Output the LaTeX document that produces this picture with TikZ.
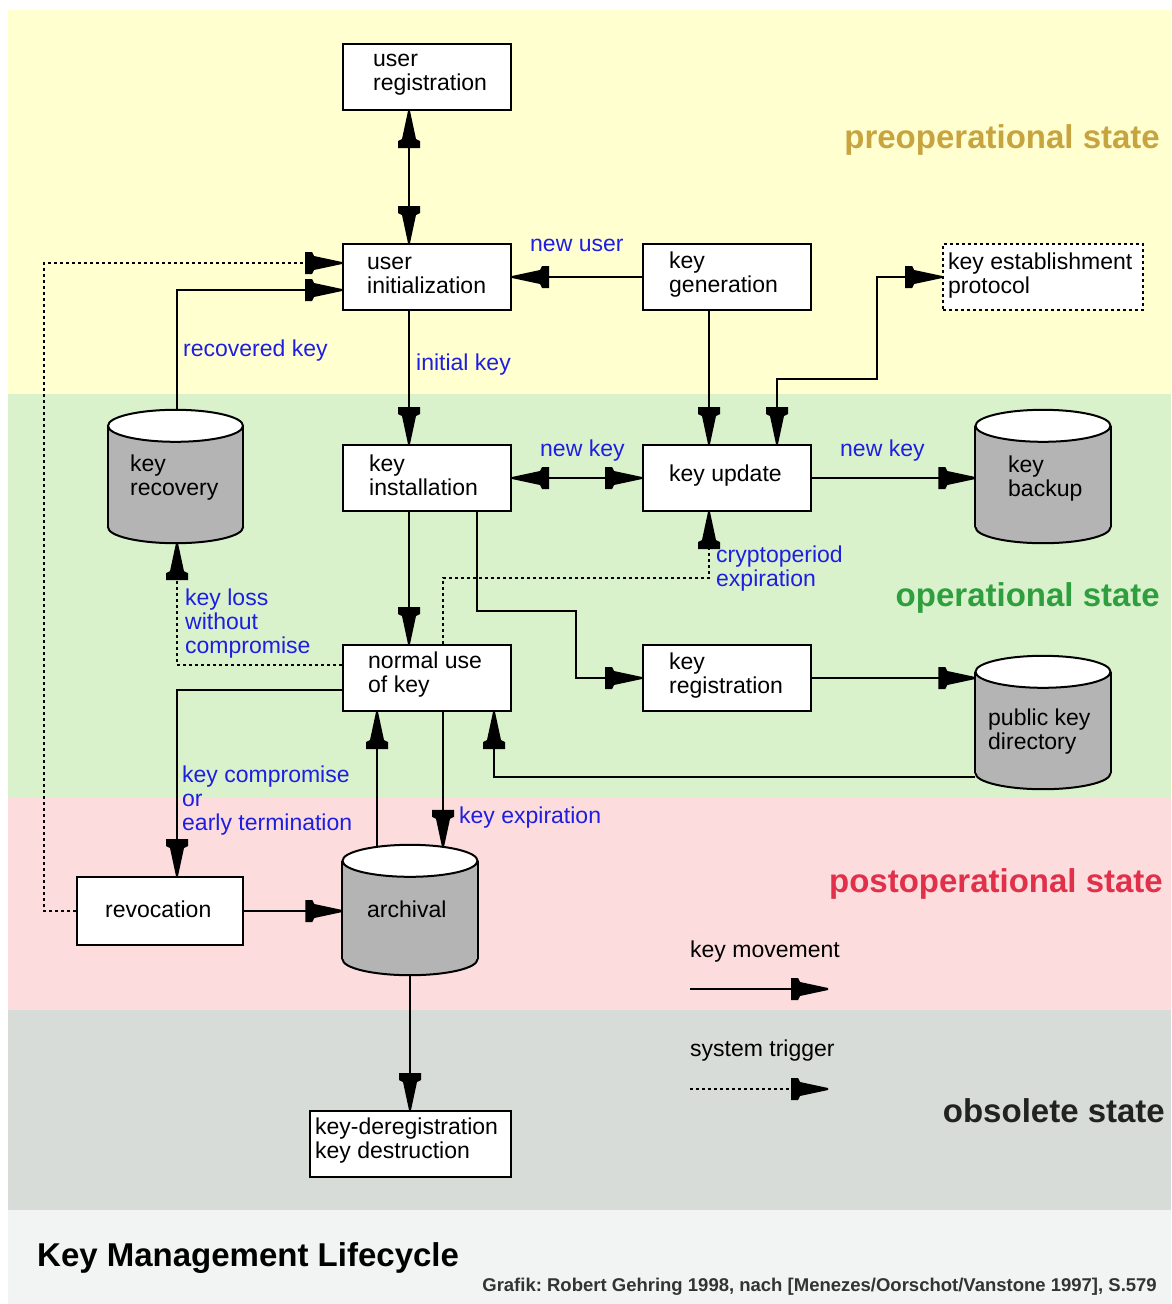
\documentclass[tikz,border=0pt]{standalone}
\usepackage{fontspec}
\setmainfont{Liberation Sans}
\usetikzlibrary{arrows.meta,calc}
\frenchspacing

\definecolor{bandpre}{HTML}{FFFFD0}
\definecolor{bandop}{HTML}{DAF2CC}
\definecolor{bandpost}{HTML}{FCDCDC}
\definecolor{bandobs}{HTML}{D8DCD8}
\definecolor{bandfoot}{HTML}{F2F4F4}
\definecolor{drumgray}{HTML}{B4B4B4}
\definecolor{flowblue}{HTML}{1E1EE0}
\definecolor{prestate}{HTML}{C8A440}
\definecolor{opstate}{HTML}{2E9E3E}
\definecolor{poststate}{HTML}{E0304A}
\definecolor{obsstate}{HTML}{222222}

% arrow head with a flat back and a long, slightly hollow point
\pgfdeclarearrow{
  name = Bolt,
  setup code = {
    \pgfarrowssettipend{0pt}
    \pgfarrowssetlineend{-28pt}
    \pgfarrowssetbackend{-37pt}
    \pgfarrowssetvisualbackend{-37pt}
    \pgfarrowshullpoint{0pt}{0pt}
    \pgfarrowsupperhullpoint{-37pt}{11pt}
  },
  drawing code = {
    \pgfpathmoveto{\pgfqpoint{0pt}{1pt}}
    \pgfpathlineto{\pgfqpoint{-28pt}{7pt}}
    \pgfpathlineto{\pgfqpoint{-30pt}{11pt}}
    \pgfpathlineto{\pgfqpoint{-37pt}{11pt}}
    \pgfpathlineto{\pgfqpoint{-37pt}{-11pt}}
    \pgfpathlineto{\pgfqpoint{-30pt}{-11pt}}
    \pgfpathlineto{\pgfqpoint{-28pt}{-7pt}}
    \pgfpathlineto{\pgfqpoint{0pt}{-1pt}}
    \pgfpathclose
    \pgfusepathqfill
  }
}

\tikzset{
  box/.style={draw, fill=white, line width=2pt, minimum width=168pt, minimum height=66pt, inner sep=0pt},
  estbox/.style={box, dash pattern=on 3pt off 3pt, line width=1.6pt, minimum width=200pt},
  drum/.style={minimum width=135pt, minimum height=133pt, inner sep=0pt},
  txt/.style={anchor=west, inner sep=0pt, align=left, font=\fontsize{23}{24}\selectfont},
  flowlbl/.style={txt, text=flowblue},
  move/.style={line width=2pt, -Bolt},
  both/.style={line width=2pt, Bolt-Bolt},
  trig/.style={line width=1.6pt, dash pattern=on 3pt off 3pt, -Bolt},
  state/.style={anchor=east, inner sep=0pt, font=\fontsize{33}{36}\selectfont\bfseries},
}

% storage drum: gray body, white top face, drawn around an invisible node
\newcommand\drawdrum[1]{%
  \filldraw[fill=drumgray, draw=black, line width=2pt] ($(#1.south)+(0,-16)$) ellipse[x radius=67.5pt, y radius=16pt];
  \fill[drumgray] ($(#1.north west)+(0,16)$) rectangle ($(#1.south east)+(0,-16)$);
  \draw[line width=2pt] ($(#1.north west)+(0,16)$) -- ($(#1.south west)+(0,-16)$)
        ($(#1.north east)+(0,16)$) -- ($(#1.south east)+(0,-16)$);
  \filldraw[fill=white, draw=black, line width=2pt] ($(#1.north)+(0,16)$) ellipse[x radius=67.5pt, y radius=16pt];
}

\begin{document}
\begin{tikzpicture}[x=1pt, y=-1pt]
% state bands
\fill[white] (0,0) rectangle (1171,1304);
\fill[bandpre] (8,10) rectangle (1171,394);
\fill[bandop] (8,394) rectangle (1171,797);
\fill[bandpost] (8,797) rectangle (1171,1010);
\fill[bandobs] (8,1010) rectangle (1171,1210);
\fill[bandfoot] (8,1210) rectangle (1171,1304);
\useasboundingbox (0,0) rectangle (1171,1304);

% state names
\node[state, text=prestate] (st-pre) at (1160,140) {preoperational state};
\node[state, text=opstate] (st-op) at (1160,598) {operational state};
\node[state, text=poststate] (st-post) at (1163,884) {postoperational state};
\node[state, text=obsstate] (st-obs) at (1165,1111) {obsolete state};

% process boxes
\node[box] (ureg) at (427,77) {};
\node[box] (uinit) at (427,277) {};
\node[box] (kgen) at (727,277) {};
\node[estbox] (kest) at (1043,277) {};
\node[box] (kinst) at (427,478) {};
\node[box] (kupd) at (727,478) {};
\node[box] (nuse) at (427,678) {};
\node[box] (kreg) at (727,678) {};
\node[box, minimum width=166pt, minimum height=68pt] (revoc) at (160,911) {};
\node[box, minimum width=201pt] (kdes) at (410.5,1144) {};

% storage drums
\node[drum] (krec) at (175.5,476.5) {};
\node[drum] (kbak) at (1043,476.5) {};
\node[drum] (pkd) at (1043,722.5) {};
\node[drum, minimum height=130pt] (arch) at (410,910) {};
\drawdrum{krec}
\drawdrum{kbak}
\drawdrum{pkd}
\drawdrum{arch}

% key movements and system triggers
\draw[both] ($(ureg.south)+(-18,0)$) -- ($(uinit.north)+(-18,0)$);
\draw[move] (kgen.west) -- (uinit.east);
\draw[trig] (revoc.west) -- ++(-32,0) |- ($(uinit.west)+(0,-14)$);
\draw[move] ($(krec.north)+(1.5,0)$) |- ($(uinit.west)+(0,13)$);
\draw[move] ($(uinit.south)+(-18,0)$) -- ($(kinst.north)+(-18,0)$);
\draw[move] ($(kgen.south)+(-18,0)$) -- ($(kupd.north)+(-18,0)$);
\draw[both] ($(kupd.north)+(50,0)$) |- ($(kest.west)+(-65,102)$) |- (kest.west);
\draw[both] (kinst.east) -- (kupd.west);
\draw[move] (kupd.east) -- (kupd.east -| kbak.west);
\draw[move] ($(kinst.south)+(-18,0)$) -- ($(nuse.north)+(-18,0)$);
\draw[move] ($(kinst.south)+(50,0)$) |- ($(kreg.west)+(-66,-67)$) |- (kreg.west);
\draw[trig] ($(nuse.north)+(16,0)$) |- ($(kupd.south)+(-18,66)$) -- ($(kupd.south)+(-18,0)$);
\draw[trig] ($(nuse.west)+(0,-13)$) -| ($(krec.south)+(1.5,0)$);
\draw[move] ($(nuse.west)+(0,12)$) -| ($(revoc.north)+(17,0)$);
\draw[move] ($(arch.north)+(-33,2)$) -- ($(nuse.south)+(-50,0)$);
\draw[move] ($(nuse.south)+(16,0)$) -- ($(arch.north)+(33,2)$);
\draw[move] (kreg.east) -- (kreg.east -| pkd.west);
\draw[move] ($(pkd.west)+(0,54.5)$) -| ($(nuse.south)+(67,0)$);
\draw[move] (revoc.east) -- (revoc.east -| arch.west);
\draw[move] (arch.south) -- (arch.south |- kdes.north);

% box texts
\node[txt] (ureg-t) at (373,75) {user\\registration};
\node[txt] (uinit-t) at (367,275) {user\\initialization};
\node[txt] (kgen-t) at (669,275) {key\\generation};
\node[txt] (kest-t) at (948,276) {key establishment\\protocol};
\node[txt] (kinst-t) at (369,475) {key\\installation};
\node[txt] (kupd-t) at (669,476) {key update};
\node[txt] (krec-t) at (130,478) {key\\recovery};
\node[txt] (kbak-t) at (1008,479) {key\\backup};
\node[txt] (nuse-t) at (368,675) {normal use\\of key};
\node[txt] (kreg-t) at (669,676) {key\\registration};
\node[txt] (pkd-t) at (988,732) {public key\\directory};
\node[txt] (revoc-t) at (105,909) {revocation};
\node[txt] (arch-t) at (367,909) {archival};
\node[txt] (kdes-t) at (315,1141) {key-deregistration\\key destruction};

% connector labels
\node[flowlbl] (l-newuser) at (530,245) {new user};
\node[flowlbl] (l-reckey) at (183,351) {recovered key};
\node[flowlbl] (l-initkey) at (416,365) {initial key};
\node[flowlbl] (l-newkey1) at (540,451) {new key};
\node[flowlbl] (l-newkey2) at (840,451) {new key};
\node[flowlbl] (l-crypto) at (716,569) {cryptoperiod\\expiration};
\node[flowlbl] (l-loss) at (185,624) {key loss\\without\\compromise};
\node[flowlbl] (l-comp) at (182,801) {key compromise\\or\\early termination};
\node[flowlbl] (l-exp) at (459,818) {key expiration};

% legend
\node[txt] (lg-move) at (690,952) {key movement};
\coordinate (lm-a) at (690,989);
\coordinate (lm-b) at (828,989);
\draw[move] (lm-a) -- (lm-b);
\node[txt] (lg-trig) at (690,1051) {system trigger};
\coordinate (lt-a) at (690,1089);
\coordinate (lt-b) at (828,1089);
\draw[trig] (lt-a) -- (lt-b);

% title and credit
\node[anchor=west, inner sep=0pt, font=\fontsize{33}{36}\selectfont\bfseries] (title) at (37,1258) {Key Management Lifecycle};
\node[anchor=east, inner sep=0pt, font=\fontsize{18.5}{20}\selectfont\bfseries, text=black!80] (credit) at (1157,1287) {Grafik: Robert Gehring 1998, nach [Menezes/Oorschot/Vanstone 1997], S.579};
\end{tikzpicture}
\end{document}
